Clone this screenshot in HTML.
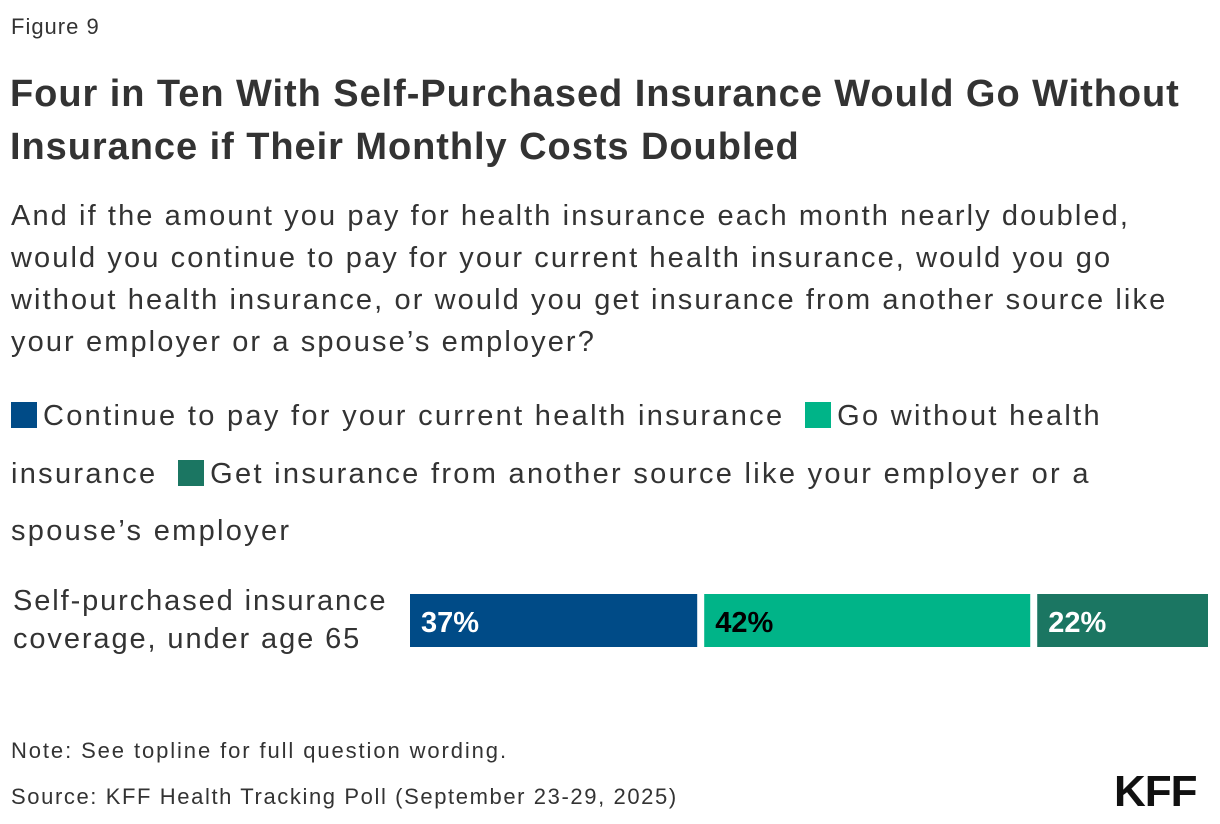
<!DOCTYPE html>
<html><head><meta charset="utf-8"><style>
body{margin:0;width:1220px;height:824px;background:#fff;font-family:"Liberation Sans",sans-serif;color:#2b2b2b;position:relative;overflow:hidden}
.a{position:absolute;margin:0;white-space:nowrap}
.sw{display:inline-block;width:26px;height:26px;vertical-align:-3px;margin-right:6px}
</style></head><body>
<div class="a" style="left:11px;top:14px;font-size:22px;color:#333;letter-spacing:1px">Figure 9</div>
<div class="a" style="left:10px;top:68px;font-size:38px;font-weight:bold;line-height:53px;color:#333;letter-spacing:0.95px">Four in Ten With Self-Purchased Insurance Would Go Without<br>Insurance if Their Monthly Costs Doubled</div>
<div class="a" style="left:11px;top:195px;font-size:29px;line-height:42px;color:#333;letter-spacing:2.1px">And if the amount you pay for health insurance each month nearly doubled,<br>would you continue to pay for your current health insurance, would you go<br>without health insurance, or would you get insurance from another source like<br>your employer or a spouse’s employer?</div>
<div class="a" style="left:11px;top:388px;font-size:29px;line-height:57.5px;color:#333;letter-spacing:2.3px">
<span><span class="sw" style="background:#004b87"></span>Continue to pay for your current health insurance</span>&nbsp;
<span><span class="sw" style="background:#00b488"></span>Go without health<br>insurance</span>&nbsp;
<span><span class="sw" style="background:#1b7662"></span>Get insurance from another source like your employer or a<br>spouse’s employer</span>
</div>
<div class="a" style="left:13px;top:582px;font-size:29px;line-height:38px;color:#333;letter-spacing:1.9px">Self-purchased insurance<br>coverage, under age 65</div>
<svg class="a" id="chart" style="left:0;top:0" width="1220" height="824"></svg>
<div class="a" style="left:11px;top:738px;font-size:22px;color:#333;letter-spacing:1.9px">Note: See topline for full question wording.</div>
<div class="a" style="left:11px;top:784px;font-size:22px;color:#333;letter-spacing:1.6px">Source: KFF Health Tracking Poll (September 23-29, 2025)</div>
<div class="a" style="left:1114px;top:767px;font-size:44px;font-weight:bold;color:#111;letter-spacing:-1px">KFF</div>
<script>
const categories=["Self-purchased insurance coverage, under age 65"];
const seriesNames=["Continue","Go without","Other source"];
const seriesValues=[37,42,22];
const seriesColors=["#004b87","#00b488","#1b7662"];
const labelColors=["#fff","#000","#fff"];
const svg=document.getElementById('chart');
const ns="http://www.w3.org/2000/svg";
const x0=410,x1=1208,gap=7,y=594,h=53;
const total=seriesValues.reduce((a,b)=>a+b,0);
const scale=(x1-x0-gap*(seriesValues.length-1))/total;
let cx=x0;
seriesValues.forEach((v,i)=>{
 const w=v*scale;
 const r=document.createElementNS(ns,'rect');
 r.setAttribute('x',cx);r.setAttribute('y',y);r.setAttribute('width',w);r.setAttribute('height',h);r.setAttribute('fill',seriesColors[i]);
 
 
 svg.appendChild(r);
 const t=document.createElementNS(ns,'text');
 t.setAttribute('x',cx+11);t.setAttribute('y',y+38);t.setAttribute('fill',labelColors[i]);
 t.setAttribute('font-size','29');t.setAttribute('font-weight','bold');t.setAttribute('font-family','Liberation Sans, sans-serif');
 t.textContent=v+'%';
 
 
 svg.appendChild(t);
 cx+=w+gap;
});
</script>
</body></html>
